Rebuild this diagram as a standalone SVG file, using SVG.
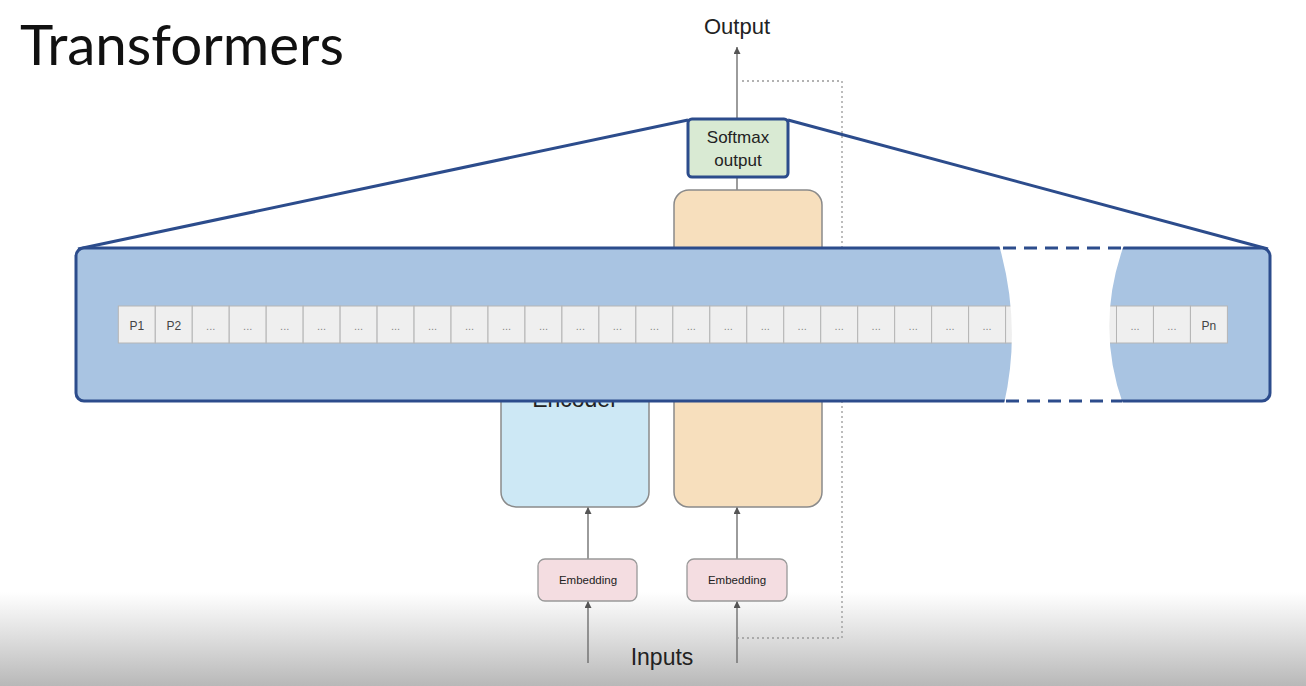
<svg xmlns="http://www.w3.org/2000/svg" width="1306" height="686" viewBox="0 0 1306 686">
<defs>
<style>
.t{font-family:"Liberation Sans",Arial,sans-serif;fill:#222}
.cell{fill:#efefef;stroke:#b5b5b5;stroke-width:1}
.cl{font-family:"Liberation Sans",Arial,sans-serif;font-size:12px;fill:#444;text-anchor:middle}
.dots{font-family:"Liberation Sans",Arial,sans-serif;font-size:11px;fill:#888;text-anchor:middle}
.conn{stroke:#666;stroke-width:1.3;fill:none}
.blue{stroke:#2c4c8c;stroke-width:3;fill:none}
</style>
<marker id="ah" viewBox="0 0 10 10" refX="10" refY="5" markerWidth="8" markerHeight="7" markerUnits="userSpaceOnUse" orient="auto">
<path d="M0,0 L10,5 L0,10 Z" fill="#555"/>
</marker>
<linearGradient id="fade" x1="0" y1="0" x2="0" y2="1">
<stop offset="0" stop-color="#bdbdbd" stop-opacity="0"/>
<stop offset="1" stop-color="#b8b8b8" stop-opacity="1"/>
</linearGradient>
</defs>
<rect width="1306" height="686" fill="#ffffff"/>
<rect x="0" y="592" width="1306" height="94" fill="url(#fade)"/>
<text x="20" y="65" font-family="Lato,'Liberation Sans',sans-serif" font-size="56.5" fill="#111">Transformers</text>

<g id="connectors">
<line class="conn" x1="737" y1="119" x2="737" y2="47" marker-end="url(#ah)"/>
<line class="conn" x1="737" y1="177" x2="737" y2="190"/>
<polyline points="742,81 842,81 842,638 738,638" fill="none" stroke="#999" stroke-width="1.3" stroke-dasharray="2 3"/>
<line class="conn" x1="588" y1="559" x2="588" y2="507" marker-end="url(#ah)"/>
<line class="conn" x1="737" y1="559" x2="737" y2="507" marker-end="url(#ah)"/>
<line class="conn" x1="588" y1="663" x2="588" y2="601" marker-end="url(#ah)"/>
<line class="conn" x1="737" y1="663" x2="737" y2="601" marker-end="url(#ah)"/>
</g>

<g id="output-label"><text class="t" x="737" y="34" font-size="22" text-anchor="middle">Output</text></g>
<g id="inputs-label"><text class="t" x="662" y="665" font-size="23" text-anchor="middle">Inputs</text></g>

<g id="decoder"><rect x="674" y="190" width="148" height="317" rx="15" fill="#f7dfbd" stroke="#8a8a8a" stroke-width="1.5"/></g>
<g id="encoder"><rect x="501" y="280" width="148" height="227" rx="15" fill="#cde8f5" stroke="#8a8a8a" stroke-width="1.5"/>
<text class="t" x="575" y="407" font-size="23" text-anchor="middle">Encoder</text></g>

<g id="embedding1"><rect x="538" y="559" width="99" height="42" rx="7" fill="#f4dde1" stroke="#999" stroke-width="1.3"/>
<text class="t" x="588" y="584" font-size="11.5" text-anchor="middle" fill="#333">Embedding</text></g>
<g id="embedding2"><rect x="687" y="559" width="100" height="42" rx="7" fill="#f4dde1" stroke="#999" stroke-width="1.3"/>
<text class="t" x="737" y="584" font-size="11.5" text-anchor="middle" fill="#333">Embedding</text></g>

<g id="zoom-lines">
<line class="blue" x1="688" y1="120" x2="78" y2="249"/>
<line class="blue" x1="788" y1="120" x2="1268" y2="249"/>
</g>

<g id="softmax"><rect x="688" y="119" width="100" height="58" rx="4" fill="#d9ead3" stroke="#2c4c8c" stroke-width="3"/>
<text class="t" x="738" y="143" font-size="17" text-anchor="middle" fill="#333">Softmax</text>
<text class="t" x="738" y="166" font-size="17" text-anchor="middle" fill="#333">output</text></g>

<g id="band">
<rect x="76" y="248" width="1194" height="153" rx="8" fill="#a9c4e2" stroke="#2c4c8c" stroke-width="3"/>
<g id="cells">
<rect class="cell" x="118.3" y="306" width="36.97" height="37"/><text class="cl" x="136.8" y="330">P1</text>
<rect class="cell" x="155.27" y="306" width="36.97" height="37"/><text class="cl" x="173.8" y="330">P2</text>
<rect class="cell" x="192.24" y="306" width="36.97" height="37"/><text class="dots" x="210.7" y="330">...</text>
<rect class="cell" x="229.21" y="306" width="36.97" height="37"/><text class="dots" x="247.7" y="330">...</text>
<rect class="cell" x="266.18" y="306" width="36.97" height="37"/><text class="dots" x="284.7" y="330">...</text>
<rect class="cell" x="303.15" y="306" width="36.97" height="37"/><text class="dots" x="321.6" y="330">...</text>
<rect class="cell" x="340.12" y="306" width="36.97" height="37"/><text class="dots" x="358.6" y="330">...</text>
<rect class="cell" x="377.09" y="306" width="36.97" height="37"/><text class="dots" x="395.6" y="330">...</text>
<rect class="cell" x="414.06" y="306" width="36.97" height="37"/><text class="dots" x="432.5" y="330">...</text>
<rect class="cell" x="451.03" y="306" width="36.97" height="37"/><text class="dots" x="469.5" y="330">...</text>
<rect class="cell" x="488.0" y="306" width="36.97" height="37"/><text class="dots" x="506.5" y="330">...</text>
<rect class="cell" x="524.97" y="306" width="36.97" height="37"/><text class="dots" x="543.5" y="330">...</text>
<rect class="cell" x="561.94" y="306" width="36.97" height="37"/><text class="dots" x="580.4" y="330">...</text>
<rect class="cell" x="598.91" y="306" width="36.97" height="37"/><text class="dots" x="617.4" y="330">...</text>
<rect class="cell" x="635.88" y="306" width="36.97" height="37"/><text class="dots" x="654.4" y="330">...</text>
<rect class="cell" x="672.85" y="306" width="36.97" height="37"/><text class="dots" x="691.3" y="330">...</text>
<rect class="cell" x="709.82" y="306" width="36.97" height="37"/><text class="dots" x="728.3" y="330">...</text>
<rect class="cell" x="746.79" y="306" width="36.97" height="37"/><text class="dots" x="765.3" y="330">...</text>
<rect class="cell" x="783.76" y="306" width="36.97" height="37"/><text class="dots" x="802.2" y="330">...</text>
<rect class="cell" x="820.73" y="306" width="36.97" height="37"/><text class="dots" x="839.2" y="330">...</text>
<rect class="cell" x="857.7" y="306" width="36.97" height="37"/><text class="dots" x="876.2" y="330">...</text>
<rect class="cell" x="894.67" y="306" width="36.97" height="37"/><text class="dots" x="913.2" y="330">...</text>
<rect class="cell" x="931.64" y="306" width="36.97" height="37"/><text class="dots" x="950.1" y="330">...</text>
<rect class="cell" x="968.61" y="306" width="36.97" height="37"/><text class="dots" x="987.1" y="330">...</text>
<rect class="cell" x="1005.58" y="306" width="36.97" height="37"/>
<rect class="cell" x="1042.55" y="306" width="36.97" height="37"/>
<rect class="cell" x="1079.52" y="306" width="36.97" height="37"/>
<rect class="cell" x="1116.49" y="306" width="36.97" height="37"/><text class="dots" x="1135" y="330">...</text>
<rect class="cell" x="1153.46" y="306" width="36.97" height="37"/><text class="dots" x="1171.9" y="330">...</text>
<rect class="cell" x="1190.43" y="306" width="36.97" height="37"/><text class="cl" x="1208.9" y="330">Pn</text>
</g>
<path d="M999,245 Q1022,325 1004,404 L1123,404 Q1095,325 1124,245 Z" fill="#ffffff"/>
<line x1="1003" y1="248" x2="1122" y2="248" stroke="#2c4c8c" stroke-width="3" stroke-dasharray="13 8"/>
<line x1="1006" y1="401" x2="1122" y2="401" stroke="#2c4c8c" stroke-width="3" stroke-dasharray="13 8"/>
</g>
</svg>
